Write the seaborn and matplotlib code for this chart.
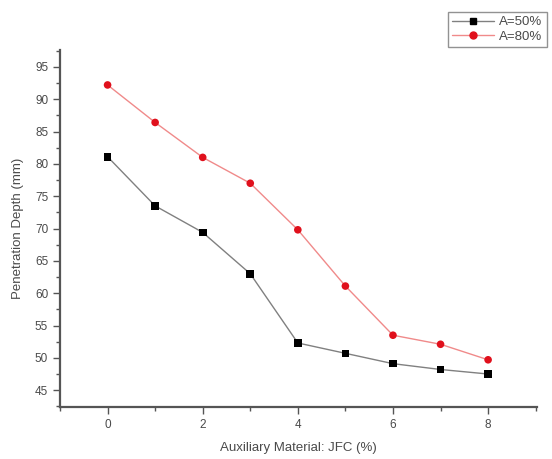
import matplotlib
matplotlib.use("Agg")
import matplotlib.pyplot as plt
import seaborn as sns
import pandas as pd
from matplotlib.ticker import MultipleLocator
from matplotlib.lines import Line2D

jfc = [0, 1, 2, 3, 4, 5, 6, 7, 8]
depth_a50 = [81.1, 73.5, 69.4, 63.0, 52.3, 50.7, 49.1, 48.2, 47.5]
depth_a80 = [92.2, 86.4, 81.0, 77.0, 69.8, 61.1, 53.5, 52.1, 49.7]
series_names = ["A=50%", "A=80%"]

df = pd.concat([
    pd.DataFrame({"x": jfc, "y": depth_a50, "s": series_names[0]}),
    pd.DataFrame({"x": jfc, "y": depth_a80, "s": series_names[1]}),
])

sns.set_style("ticks")
plt.rcParams['font.family'] = ['Liberation Sans', 'DejaVu Sans']
txt = "#4a4a4a"

fig = plt.figure(figsize=(5.52, 4.59), dpi=100)
ax = fig.add_axes([0.1087, 0.1133, 0.8643, 0.7777])

palette = {series_names[0]: "#000000", series_names[1]: "#e0101c"}
line_cols = {series_names[0]: "#808080", series_names[1]: "#f08a8a"}
markers = {series_names[0]: "s", series_names[1]: "o"}
for name in series_names:
    sub = df[df.s == name]
    sns.lineplot(data=sub, x="x", y="y", ax=ax, color=line_cols[name], lw=1.0,
                 legend=False)
    sns.scatterplot(data=sub, x="x", y="y", ax=ax, color=palette[name],
                    marker=markers[name], s=30, edgecolor="none", legend=False,
                    zorder=3)

ax.set_xlim(-1, 9.03)
ax.set_ylim(42.4, 97.6)
ax.xaxis.set_major_locator(MultipleLocator(2))
ax.xaxis.set_minor_locator(MultipleLocator(1))
ax.yaxis.set_major_locator(MultipleLocator(5))
ax.yaxis.set_minor_locator(MultipleLocator(2.5))
ax.tick_params(which="major", length=5, width=1, colors="#555555",
               labelcolor=txt, labelsize=8.5)
ax.tick_params(which="minor", length=3, width=1, colors="#555555")
for side in ["top", "right"]:
    ax.spines[side].set_visible(False)
for side in ["left", "bottom"]:
    ax.spines[side].set_color("#555555")
    ax.spines[side].set_linewidth(1.6)

ax.set_xlabel("Auxiliary Material: JFC (%)", color=txt, fontsize=9.5, labelpad=8)
ax.set_ylabel("Penetration Depth (mm)", color=txt, fontsize=9.5, labelpad=8)

handles = [Line2D([], [], color=line_cols[n], lw=1.0, marker=markers[n],
                  markerfacecolor=palette[n], markeredgecolor=palette[n],
                  markersize=5) for n in series_names]
leg = fig.legend(handles, series_names, loc="upper left",
                 bbox_to_anchor=(448/552, 1 - 12/459), frameon=True,
                 fancybox=False, fontsize=9.5, handlelength=3.2,
                 borderpad=0.3, labelspacing=0.2, handletextpad=0.4,
                 borderaxespad=0)
leg.get_frame().set_edgecolor("#777777")
leg.get_frame().set_linewidth(1.0)
for t in leg.get_texts():
    t.set_color(txt)

fig.savefig("out.png", dpi=100)
